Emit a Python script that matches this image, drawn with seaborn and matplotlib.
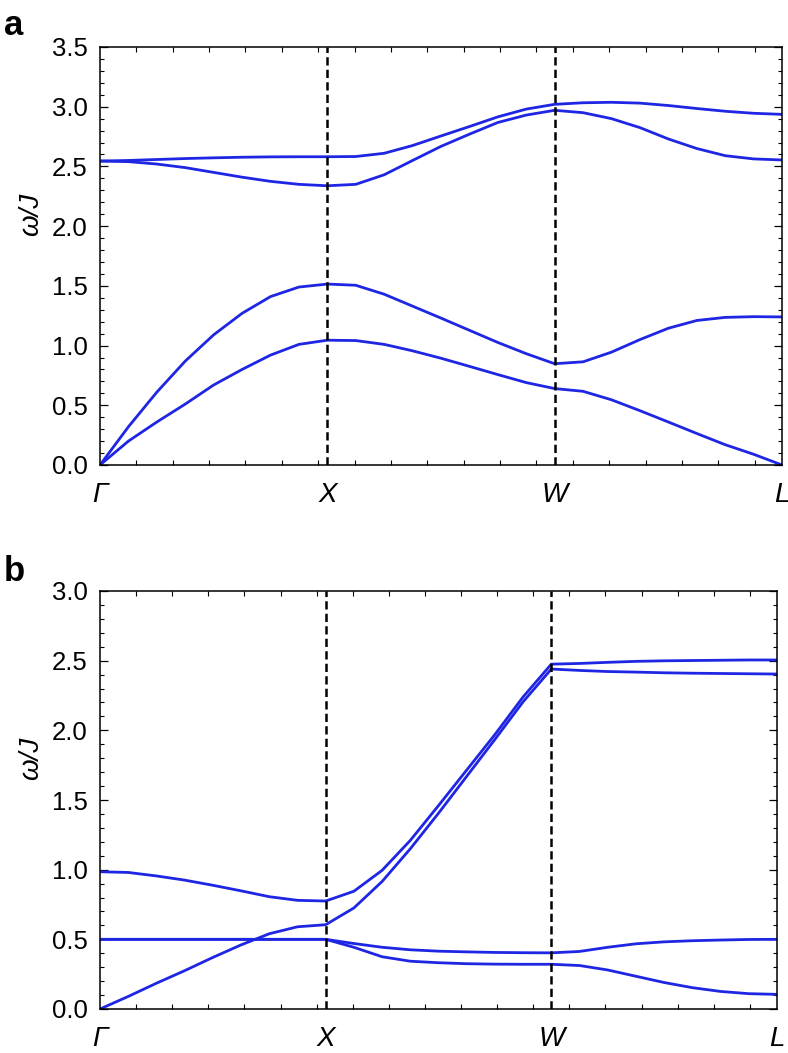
import numpy as np
import pandas as pd
import matplotlib
matplotlib.use("Agg")
import matplotlib.pyplot as plt
from matplotlib.ticker import MultipleLocator, FixedLocator
import seaborn as sns

# ---------------- data ----------------
k_path = [i / 8 for i in range(25)]          # Γ=0, X=1, W=2, L=3
k_labels = ["Γ", "X", "W", "L"]
k_label_pos = [0, 1, 2, 3]

# Panel a
a_acoustic_low = [0.0, 0.20, 0.36, 0.51, 0.67, 0.80, 0.92, 1.01, 1.045,
                  1.042, 1.01, 0.956, 0.894, 0.826, 0.757, 0.69, 0.64,
                  0.617, 0.546, 0.455, 0.36, 0.264, 0.17, 0.09, 0.0]
a_acoustic_up = [0.0, 0.32, 0.61, 0.87, 1.09, 1.27, 1.41, 1.49, 1.515,
                 1.505, 1.43, 1.33, 1.23, 1.128, 1.026, 0.932, 0.848,
                 0.864, 0.945, 1.05, 1.145, 1.21, 1.236, 1.242, 1.24]
a_optical_low = [2.545, 2.54, 2.52, 2.49, 2.45, 2.41, 2.375, 2.35, 2.338,
                 2.35, 2.43, 2.55, 2.668, 2.77, 2.868, 2.93, 2.97,
                 2.95, 2.90, 2.825, 2.73, 2.65, 2.59, 2.563, 2.554]
a_optical_up = [2.545, 2.55, 2.558, 2.566, 2.572, 2.577, 2.58, 2.581, 2.581,
                2.583, 2.61, 2.675, 2.755, 2.834, 2.915, 2.98, 3.02,
                3.033, 3.037, 3.03, 3.01, 2.985, 2.962, 2.945, 2.936]

# Panel b
b_band1 = [0.5, 0.5, 0.5, 0.5, 0.5, 0.5, 0.5, 0.5, 0.5,
           0.443, 0.375, 0.343, 0.332, 0.325, 0.322, 0.321, 0.321,
           0.312, 0.28, 0.235, 0.19, 0.153, 0.126, 0.11, 0.105]
b_band2 = [0.5, 0.5, 0.5, 0.5, 0.5, 0.5, 0.5, 0.5, 0.5,
           0.47, 0.443, 0.425, 0.415, 0.41, 0.406, 0.404, 0.403,
           0.413, 0.443, 0.468, 0.482, 0.49, 0.495, 0.499, 0.5]
b_band3 = [0.0, 0.09, 0.185, 0.275, 0.37, 0.46, 0.54, 0.59, 0.605,
           0.725, 0.915, 1.15, 1.405, 1.67, 1.935, 2.205, 2.44,
           2.43, 2.422, 2.418, 2.413, 2.41, 2.408, 2.406, 2.404]
b_band4 = [0.985, 0.98, 0.955, 0.925, 0.888, 0.848, 0.806, 0.78, 0.775,
           0.845, 0.995, 1.21, 1.46, 1.715, 1.97, 2.24, 2.475,
           2.48, 2.488, 2.495, 2.499, 2.501, 2.503, 2.505, 2.505]

a_bands = {"acoustic_low": a_acoustic_low, "acoustic_up": a_acoustic_up,
           "optical_low": a_optical_low, "optical_up": a_optical_up}
b_bands = {"band1": b_band1, "band2": b_band2, "band3": b_band3, "band4": b_band4}


def to_long(bands):
    rows = []
    for name, vals in bands.items():
        for k, w in zip(k_path, vals):
            rows.append({"k": k, "omega": w, "band": name})
    return pd.DataFrame(rows)


# ---------------- style ----------------
sns.set_style("ticks")
plt.rcParams["font.family"] = ["Liberation Sans", "DejaVu Sans"]
plt.rcParams["text.color"] = "black"
plt.rcParams["axes.labelcolor"] = "black"
plt.rcParams["xtick.color"] = "black"
plt.rcParams["ytick.color"] = "black"
plt.rcParams["xtick.labelcolor"] = "black"
plt.rcParams["ytick.labelcolor"] = "black"

BLUE = "#1f26e3"
W_PX, H_PX, DPI = 788, 1053, 100
fig = plt.figure(figsize=(W_PX / DPI, H_PX / DPI), dpi=DPI)


def px_axes(left, top, right, bottom):
    return fig.add_axes([left / W_PX, 1 - bottom / H_PX,
                         (right - left) / W_PX, (bottom - top) / H_PX])


ax_a = px_axes(100, 47, 782, 465)
ax_b = px_axes(100, 591, 777, 1009)

panels = [(ax_a, a_bands, 3.5, "a", 35), (ax_b, b_bands, 3.0, "b", 581)]

for ax, bands, ymax, letter, base_px in panels:
    df = to_long(bands)
    sns.lineplot(data=df, x="k", y="omega", units="band", estimator=None,
                 color=BLUE, linewidth=2.0, ax=ax, legend=False, sort=False)
    for xv in (1, 2):
        ax.axvline(xv, color="black", linewidth=1.8, linestyle=(0, (3.3, 1.7)),
                   zorder=3)
    ax.set_xlim(0, 3)
    ax.set_ylim(0, ymax)

    # y ticks
    ax.yaxis.set_major_locator(MultipleLocator(0.5))
    ax.yaxis.set_minor_locator(MultipleLocator(0.1))
    ax.set_yticklabels([f"{v:.1f}" for v in ax.get_yticks()])
    # x ticks
    ax.xaxis.set_major_locator(FixedLocator(k_label_pos))
    ax.set_xticklabels(k_labels, fontstyle="italic", fontsize=20)
    ax.xaxis.set_minor_locator(FixedLocator([i * 0.16 for i in range(1, 19)]))

    ax.tick_params(axis="both", which="both", direction="in",
                   top=True, right=True, color="black")
    ax.tick_params(axis="y", which="major", length=6, width=0.9,
                   labelsize=18.5, pad=9)
    ax.tick_params(axis="y", which="minor", length=3, width=0.8)
    ax.tick_params(axis="x", which="major", length=0, pad=12)
    ax.tick_params(axis="x", which="minor", length=3.5, width=0.8)

    for sp in ax.spines.values():
        sp.set_visible(True)
        sp.set_linewidth(1.1)
        sp.set_color("black")

    ax.set_xlabel("")
    ax.set_ylabel("ω/J", fontstyle="italic", fontsize=20, color="black")
    ax.yaxis.set_label_coords(-0.082, 0.6)

    fig.text(0.005, 1 - base_px / H_PX, letter, fontsize=25,
             fontweight="bold", va="baseline", ha="left", color="black")

fig.savefig("out.png", dpi=DPI)
